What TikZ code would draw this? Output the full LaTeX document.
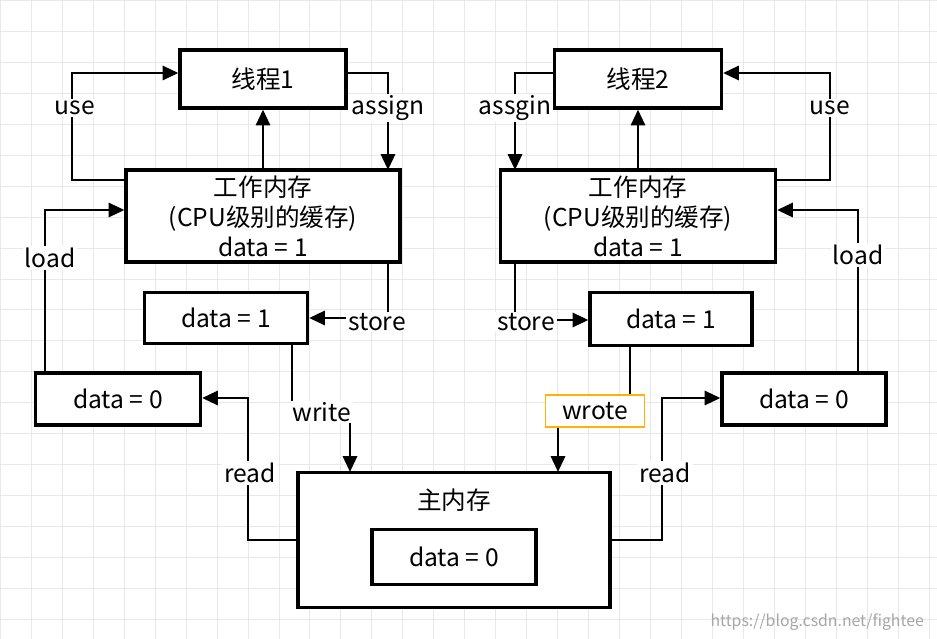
\documentclass[tikz,border=0pt]{standalone}
\usepackage{fontspec}
\setmainfont{Noto Sans CJK SC}
\usetikzlibrary{arrows.meta,positioning}
\tikzset{
  box/.style = {draw, fill=white, line width=1.8pt, inner sep=0pt, font=\fontsize{14}{17}\selectfont, align=center},
  lbl/.style = {fill=white, inner sep=1pt, font=\fontsize{14}{17}\selectfont},
  conn/.style = {line width=1.6pt, -{Triangle[length=9pt,width=8pt]}}
}
\begin{document}
\begin{tikzpicture}[x=0.02cm,y=-0.02cm]
  \useasboundingbox (0,0) rectangle (937,639);
  \fill[white] (0,0) rectangle (937,639);
  \draw[gray!18, line width=0.5pt, step=0.62cm] (0,0) grid (937,639);
  % boxes
  \node[box, minimum width=3.32cm, minimum height=1.16cm] (t1) at (263,79) {线程1};
  \node[box, minimum width=5.48cm, minimum height=1.84cm] (w1) at (263,216) {工作内存\\(CPU级别的缓存)\\data = 1};
  \node[box, minimum width=3.26cm, minimum height=1.02cm] (d1) at (226,318) {data = 1};
  \node[box, minimum width=3.3cm, minimum height=1.04cm] (z1) at (118,399) {data = 0};
  \node[box, minimum width=3.34cm, minimum height=1.16cm] (t2) at (638,79) {线程2};
  \node[box, minimum width=5.5cm, minimum height=1.84cm] (w2) at (638,216) {工作内存\\(CPU级别的缓存)\\data = 1};
  \node[box, minimum width=3.24cm, minimum height=1.06cm] (d2) at (671,319) {data = 1};
  \node[box, minimum width=3.28cm, minimum height=1.04cm] (z2) at (804,399) {data = 0};
  \node[box, minimum width=6.24cm, minimum height=2.7cm] (m) at (454,540) {};
  \node[font=\fontsize{14}{17}\selectfont] (mt) at (454,500) {主内存};
  \node[box, minimum width=3.28cm, minimum height=1.1cm] (md) at (454,557) {data = 0};
  % left connectors
  \draw[conn] (w1.west |- 0,180) -- (72,180) -- (72,73) -- (t1.west |- 0,73);
  \node[lbl] (u1) at (75,108) {use};
  \draw[conn] (t1.east |- 0,73) -- (388,73) -- (388,170);
  \node[lbl] (as1) at (388,108) {assign};
  \draw[conn] (w1.north) -- (t1.south);
  \draw[conn] (45,373) -- (45,210) -- (w1.west |- 0,210);
  \node[lbl] (l1) at (50,258) {load};
  \draw[conn] (388,262) -- (388,318) -- (d1.east);
  \node[lbl] (s1) at (377,322) {store};
  \draw[conn] (292,343) -- (292,412) -- (350,412) -- (350,472);
  \node[lbl] (wr1) at (322,412) {write};
  \draw[conn] (m.west |- 0,540) -- (248,540) -- (248,398) -- (z1.east |- 0,398);
  \node[lbl] (r1) at (250,473) {read};
  % right connectors
  \draw[conn] (w2.east |- 0,180) -- (830,180) -- (830,73) -- (t2.east |- 0,73);
  \node[lbl] (u2) at (830,108) {use};
  \draw[conn] (t2.west |- 0,73) -- (515,73) -- (515,170);
  \node[lbl] (as2) at (515,108) {assgin};
  \draw[conn] (w2.north) -- (t2.south);
  \draw[conn] (858,373) -- (858,210) -- (w2.east |- 0,210);
  \node[lbl] (l2) at (858,255) {load};
  \draw[conn] (515,262) -- (515,320) -- (d2.west |- 0,320);
  \node[lbl] (s2) at (526,322) {store};
  \draw[conn] (630,345) -- (630,410) -- (558,410) -- (558,472);
  \node[draw=orange!60!yellow, line width=1pt, fill=white, minimum width=1.98cm, minimum height=0.64cm, font=\fontsize{14}{17}\selectfont] (wr2) at (595,411) {wrote};
  \draw[conn] (m.east |- 0,540) -- (662,540) -- (662,398) -- (z2.west |- 0,398);
  \node[lbl] (r2) at (665,473) {read};
  \node[text=gray!70, font=\fontsize{9}{11}\selectfont, anchor=east] (wm) at (930,622) {https://blog.csdn.net/fightee};
\end{tikzpicture}
\end{document}
